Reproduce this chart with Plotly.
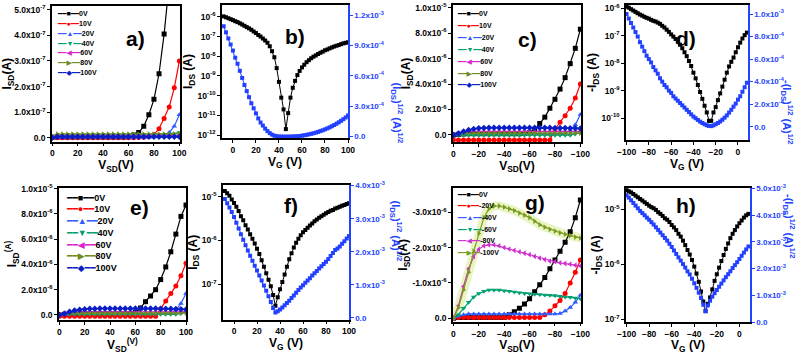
import numpy as np
import plotly.graph_objects as go

W, H = 808, 354
FONT = "Liberation Sans, DejaVu Sans"
BLUE_AX = "#2244FF"

# ---------------- output curves, V_SD in steps of 4 V ----------------
vsd_p = [0, 4, 8, 12, 16, 20, 24, 28, 32, 36, 40, 44, 48,
         52, 56, 60, 64, 68, 72, 76, 80, 84, 88, 92, 96, 100]
vsd_n = [0, -4, -8, -12, -16, -20, -24, -28, -32, -36, -40, -44, -48,
         -52, -56, -60, -64, -68, -72, -76, -80, -84, -88, -92, -96, -100]

# panel a, I_SD in units of 1e-7 A
a_0v = [0.02, 0.03, 0.03, 0.03, 0.03, 0.03, 0.03, 0.03, 0.03, 0.03, 0.03, 0.03, 0.03,
        0.03, 0.03, 0.04, 0.10, 0.20, 0.45, 0.90, 1.50, 2.50, 4.05, 6.00, 8.00, 10.0]
a_10v = [0.00, 0.00, 0.00, 0.00, 0.00, 0.00, 0.00, 0.00, 0.00, 0.00, 0.00, 0.00, 0.00,
         0.00, 0.00, 0.00, 0.00, 0.01, 0.02, 0.05, 0.12, 0.35, 0.75, 1.20, 1.95, 3.00]
a_20v = [0.01, 0.02, 0.02, 0.02, 0.02, 0.02, 0.02, 0.02, 0.02, 0.02, 0.02, 0.02, 0.02,
         0.02, 0.02, 0.02, 0.02, 0.02, 0.02, 0.02, 0.03, 0.04, 0.07, 0.20, 0.45, 0.90]
a_40v = [0.05, 0.10, 0.10, 0.10, 0.10, 0.10, 0.10, 0.10, 0.10, 0.10, 0.10, 0.10, 0.10,
         0.10, 0.10, 0.10, 0.10, 0.10, 0.10, 0.10, 0.10, 0.11, 0.12, 0.13, 0.15, 0.20]
a_60v = [0.03, 0.07, 0.07, 0.07, 0.07, 0.07, 0.07, 0.07, 0.07, 0.07, 0.07, 0.07, 0.07,
         0.07, 0.07, 0.07, 0.07, 0.07, 0.07, 0.07, 0.07, 0.07, 0.07, 0.07, 0.08, 0.09]
a_80v = [0.06, 0.14, 0.14, 0.14, 0.14, 0.14, 0.14, 0.14, 0.14, 0.14, 0.14, 0.14, 0.14,
         0.14, 0.14, 0.14, 0.14, 0.14, 0.14, 0.14, 0.14, 0.14, 0.14, 0.14, 0.14, 0.15]
a_100v = [0.00, 0.04, 0.04, 0.04, 0.04, 0.04, 0.04, 0.04, 0.04, 0.04, 0.04, 0.04, 0.04,
          0.04, 0.04, 0.04, 0.04, 0.04, 0.04, 0.04, 0.04, 0.04, 0.04, 0.04, 0.04, 0.04]

# panel c, I_SD in units of 1e-6 A (V_SD negative)
c_0v = [0.00, 0.05, 0.08, 0.10, 0.10, 0.10, 0.10, 0.10, 0.10, 0.10, 0.10, 0.10, 0.10,
        0.10, 0.12, 0.18, 0.40, 0.90, 1.40, 2.10, 2.80, 3.60, 4.50, 5.60, 6.80, 8.30]
c_10v = [-0.40, -0.40, -0.40, -0.40, -0.40, -0.40, -0.40, -0.40, -0.40, -0.40, -0.40, -0.40, -0.40,
         -0.40, -0.40, -0.40, -0.40, -0.40, -0.40, -0.40, 0.45, 1.00, 1.50, 2.10, 2.90, 4.00]
c_20v = [0.00, 0.05, 0.08, 0.10, 0.10, 0.10, 0.10, 0.10, 0.10, 0.10, 0.10, 0.10, 0.10,
         0.10, 0.10, 0.10, 0.10, 0.10, 0.10, 0.10, 0.10, 0.10, 0.12, 0.35, 0.80, 1.60]
c_40v = [0.00, -0.02, -0.02, -0.02, -0.02, -0.02, -0.02, -0.02, -0.02, -0.02, -0.02, -0.02, -0.02,
         -0.02, -0.02, -0.02, -0.02, -0.02, -0.02, -0.02, -0.02, -0.02, -0.02, -0.02, 0.08, 0.20]
c_60v = [0.00, 0.15, 0.25, 0.28, 0.28, 0.28, 0.28, 0.28, 0.28, 0.28, 0.28, 0.28, 0.28,
         0.28, 0.28, 0.28, 0.28, 0.28, 0.28, 0.28, 0.28, 0.28, 0.28, 0.28, 0.28, 0.28]
c_80v = [0.00, 0.10, 0.15, 0.15, 0.15, 0.15, 0.15, 0.15, 0.15, 0.15, 0.15, 0.15, 0.15,
         0.15, 0.15, 0.15, 0.15, 0.15, 0.15, 0.15, 0.15, 0.15, 0.15, 0.15, 0.15, 0.15]
c_100v = [0.00, 0.12, 0.28, 0.40, 0.47, 0.52, 0.55, 0.56, 0.57, 0.57, 0.57, 0.57, 0.57,
          0.57, 0.57, 0.57, 0.57, 0.57, 0.56, 0.56, 0.55, 0.55, 0.54, 0.53, 0.52, 0.50]

# panel e, I_SD in units of 1e-6 A
e_0v = [0.00, 0.05, 0.08, 0.10, 0.10, 0.10, 0.10, 0.10, 0.10, 0.10, 0.10, 0.10, 0.10,
        0.10, 0.12, 0.20, 0.55, 1.05, 1.50, 2.00, 2.80, 3.80, 5.00, 6.40, 7.80, 8.70]
e_10v = [-0.10, -0.10, -0.10, -0.10, -0.10, -0.10, -0.10, -0.10, -0.10, -0.10, -0.10, -0.10, -0.10,
         -0.10, -0.10, -0.10, -0.10, -0.10, -0.10, -0.10, 0.50, 1.10, 1.70, 2.30, 3.10, 4.10]
e_20v = [0.00, 0.05, 0.08, 0.10, 0.10, 0.10, 0.10, 0.10, 0.10, 0.10, 0.10, 0.10, 0.10,
         0.10, 0.10, 0.10, 0.10, 0.10, 0.10, 0.10, 0.10, 0.10, 0.12, 0.40, 0.90, 1.70]
e_40v = [0.00, 0.05, 0.05, 0.05, 0.05, 0.05, 0.05, 0.05, 0.05, 0.05, 0.05, 0.05, 0.05,
         0.05, 0.05, 0.05, 0.05, 0.05, 0.05, 0.05, 0.05, 0.05, 0.05, 0.05, 0.12, 0.22]
e_60v = [0.00, 0.15, 0.22, 0.25, 0.25, 0.25, 0.25, 0.25, 0.25, 0.25, 0.25, 0.25, 0.25,
         0.25, 0.25, 0.25, 0.25, 0.25, 0.25, 0.25, 0.25, 0.25, 0.25, 0.25, 0.25, 0.25]
e_80v = [0.00, 0.10, 0.15, 0.15, 0.15, 0.15, 0.15, 0.15, 0.15, 0.15, 0.15, 0.15, 0.15,
         0.15, 0.15, 0.15, 0.15, 0.15, 0.15, 0.15, 0.15, 0.15, 0.15, 0.15, 0.15, 0.15]
e_100v = [0.00, 0.10, 0.25, 0.35, 0.42, 0.46, 0.49, 0.50, 0.51, 0.52, 0.52, 0.52, 0.52,
          0.52, 0.52, 0.52, 0.52, 0.52, 0.51, 0.51, 0.50, 0.50, 0.49, 0.48, 0.46, 0.44]

# panel g, I_SD in units of 1e-6 A (negative)
g_0v = [0.00, -0.02, -0.02, -0.02, -0.02, -0.02, -0.02, -0.02, -0.02, -0.02, -0.02, -0.10, -0.18,
        -0.28, -0.40, -0.55, -0.75, -0.95, -1.15, -1.40, -1.65, -1.90, -2.15, -2.45, -2.85, -3.35]
g_20v = [0.00, -0.02, -0.02, -0.02, -0.02, -0.02, -0.02, -0.02, -0.02, -0.02, -0.02, -0.02, -0.02,
         -0.02, -0.02, -0.02, -0.02, -0.02, -0.10, -0.20, -0.35, -0.50, -0.70, -1.00, -1.30, -1.65]
g_40v = [0.00, -0.06, -0.10, -0.12, -0.12, -0.12, -0.12, -0.12, -0.12, -0.12, -0.12, -0.12, -0.12,
         -0.12, -0.12, -0.12, -0.12, -0.12, -0.12, -0.12, -0.12, -0.13, -0.20, -0.30, -0.45, -0.65]
g_60v = [0.00, -0.10, -0.28, -0.45, -0.60, -0.70, -0.76, -0.80, -0.80, -0.80, -0.78, -0.76, -0.74,
         -0.72, -0.70, -0.69, -0.68, -0.67, -0.66, -0.65, -0.64, -0.62, -0.60, -0.59, -0.57, -0.55]
g_80v = [0.00, -0.35, -0.90, -1.40, -1.75, -1.95, -2.05, -2.08, -2.08, -2.05, -2.00, -1.96, -1.92,
         -1.88, -1.84, -1.80, -1.75, -1.70, -1.66, -1.62, -1.60, -1.57, -1.55, -1.53, -1.50, -1.48]
g_100v = [0.00, -0.30, -0.80, -1.30, -1.90, -2.40, -2.85, -3.10, -3.18, -3.18, -3.15, -3.10, -3.05,
          -2.98, -2.92, -2.85, -2.75, -2.65, -2.58, -2.52, -2.47, -2.42, -2.38, -2.34, -2.30, -2.27]

# ---------------- transfer curves, V_G in steps of 2 V ----------------
vg_pos = list(range(-8, 101, 2))
vg_neg = list(range(-100, 9, 2))

b_ids = [1.05e-6, 9.5e-7, 8.5e-7, 7.6e-7, 6.8e-7, 6.0e-7, 5.4e-7, 4.7e-7, 4.1e-7, 3.5e-7, 3.0e-7,
         2.6e-7, 2.2e-7, 1.8e-7, 1.5e-7, 1.2e-7, 1.0e-7, 7.9e-8, 6.3e-8, 4.8e-8, 3.2e-8, 1.8e-8,
         8.9e-9, 2.5e-9, 5.0e-10, 7.9e-11, 2.0e-11, 2.0e-12, 1.3e-11, 7.9e-11, 2.5e-10, 5.6e-10, 1.1e-9,
         1.8e-9, 2.7e-9, 3.7e-9, 5.0e-9, 6.3e-9, 7.9e-9, 9.5e-9, 1.1e-8, 1.3e-8, 1.5e-8, 1.7e-8,
         2.0e-8, 2.2e-8, 2.5e-8, 2.8e-8, 3.1e-8, 3.4e-8, 3.7e-8, 4.1e-8, 4.5e-8, 4.8e-8, 5.1e-8]
b_sqrt = [1.09, 1.03, 0.97, 0.91, 0.85, 0.78, 0.72, 0.65, 0.58, 0.51, 0.45,
          0.39, 0.33, 0.28, 0.23, 0.18, 0.14, 0.11, 0.08, 0.055, 0.035, 0.02,
          0.01, 0.005, 0.002, 0.001, 0.0005, 0.0, 0.0005, 0.001, 0.002, 0.003, 0.005,
          0.007, 0.01, 0.014, 0.018, 0.023, 0.028, 0.034, 0.04, 0.047, 0.055, 0.063,
          0.072, 0.082, 0.092, 0.103, 0.115, 0.128, 0.142, 0.157, 0.173, 0.19, 0.21]  # x1e-3

d_ids = [1.15e-6, 1.05e-6, 9.3e-7, 8.3e-7, 7.4e-7, 6.6e-7, 5.9e-7, 5.4e-7, 4.9e-7, 4.5e-7, 4.2e-7,
         3.8e-7, 3.5e-7, 3.3e-7, 3.0e-7, 2.7e-7, 2.3e-7, 2.0e-7, 1.66e-7, 1.38e-7, 1.12e-7, 9.3e-8,
         7.6e-8, 6.0e-8, 4.7e-8, 3.5e-8, 2.5e-8, 1.8e-8, 1.2e-8, 7.9e-9, 4.5e-9, 2.8e-9, 1.6e-9,
         8.9e-10, 5.0e-10, 2.8e-10, 1.6e-10, 7.9e-11, 7.9e-11, 1.6e-10, 2.5e-10, 4.5e-10, 7.9e-10, 1.4e-9,
         2.5e-9, 4.5e-9, 7.6e-9, 1.12e-8, 1.6e-8, 2.5e-8, 3.8e-8, 5.6e-8, 7.9e-8, 1.05e-7, 1.3e-7]
d_sqrt = [1.0, 0.96, 0.92, 0.88, 0.84, 0.8, 0.75, 0.71, 0.67, 0.63, 0.6,
          0.57, 0.53, 0.5, 0.47, 0.43, 0.4, 0.37, 0.35, 0.32, 0.3, 0.27,
          0.25, 0.23, 0.21, 0.19, 0.17, 0.15, 0.13, 0.11, 0.09, 0.075, 0.06,
          0.045, 0.033, 0.022, 0.013, 0.007, 0.005, 0.012, 0.022, 0.033, 0.046, 0.062,
          0.08, 0.1, 0.125, 0.15, 0.178, 0.205, 0.24, 0.27, 0.31, 0.35, 0.39]  # x1e-3

f_ids = [1.35e-5, 1.2e-5, 1.05e-5, 8.7e-6, 7.2e-6, 5.9e-6, 4.7e-6, 3.6e-6, 2.9e-6, 2.24e-6, 1.78e-6,
         1.38e-6, 1.1e-6, 8.5e-7, 6.5e-7, 4.9e-7, 3.5e-7, 2.5e-7, 1.78e-7, 1.26e-7, 8.9e-8, 5.6e-8,
         3.2e-8, 5.0e-8, 7.6e-8, 1.12e-7, 1.66e-7, 2.5e-7, 3.7e-7, 5.1e-7, 6.9e-7, 8.9e-7, 1.1e-6,
         1.32e-6, 1.55e-6, 1.74e-6, 1.95e-6, 2.19e-6, 2.45e-6, 2.75e-6, 3.0e-6, 3.3e-6, 3.6e-6, 3.9e-6,
         4.2e-6, 4.5e-6, 4.8e-6, 5.0e-6, 5.4e-6, 5.6e-6, 5.9e-6, 6.2e-6, 6.5e-6, 6.8e-6, 7.1e-6]
f_sqrt = [3.6, 3.47, 3.34, 3.2, 3.05, 2.88, 2.7, 2.53, 2.36, 2.2, 2.04,
          1.88, 1.73, 1.58, 1.43, 1.28, 1.13, 0.98, 0.82, 0.65, 0.48, 0.3,
          0.16, 0.2, 0.25, 0.31, 0.38, 0.45, 0.52, 0.6, 0.68, 0.76, 0.84,
          0.92, 0.99, 1.06, 1.13, 1.2, 1.28, 1.35, 1.42, 1.49, 1.56, 1.63,
          1.7, 1.78, 1.87, 1.96, 2.05, 2.1, 2.16, 2.24, 2.32, 2.4, 2.48]  # x1e-3

h_ids = [2.24e-5, 2.14e-5, 2.04e-5, 1.91e-5, 1.78e-5, 1.66e-5, 1.55e-5, 1.45e-5, 1.35e-5, 1.26e-5, 1.17e-5,
         1.1e-5, 1.05e-5, 9.8e-6, 8.9e-6, 8.3e-6, 7.6e-6, 6.9e-6, 6.5e-6, 5.9e-6, 5.2e-6, 4.7e-6,
         4.2e-6, 3.6e-6, 3.2e-6, 2.7e-6, 2.24e-6, 1.82e-6, 1.51e-6, 1.2e-6, 9.1e-7, 6.8e-7, 4.8e-7,
         3.2e-7, 2.1e-7, 1.41e-7, 1.91e-7, 2.5e-7, 3.5e-7, 5.0e-7, 6.6e-7, 8.7e-7, 1.15e-6, 1.48e-6,
         1.91e-6, 2.4e-6, 3.0e-6, 3.6e-6, 4.2e-6, 4.9e-6, 5.6e-6, 6.3e-6, 7.1e-6, 7.8e-6, 8.3e-6]
h_sqrt = [4.75, 4.66, 4.56, 4.46, 4.36, 4.26, 4.16, 4.08, 4.0, 3.91, 3.83,
          3.74, 3.65, 3.55, 3.45, 3.35, 3.25, 3.15, 3.05, 2.93, 2.81, 2.68,
          2.55, 2.42, 2.3, 2.17, 2.04, 1.9, 1.78, 1.62, 1.45, 1.28, 1.1,
          0.9, 0.65, 0.4, 0.62, 0.8, 0.95, 1.08, 1.2, 1.32, 1.44, 1.56,
          1.68, 1.79, 1.9, 2.02, 2.13, 2.24, 2.36, 2.48, 2.6, 2.72, 2.83]  # x1e-3

pos_labels = ["0V", "10V", "20V", "40V", "60V", "80V", "100V"]
neg_labels = ["0V", "-20V", "-40V", "-60V", "-80V", "-100V"]

for arr in [a_0v, a_10v, a_20v, a_40v, a_60v, a_80v, a_100v, c_0v, c_10v, c_20v, c_40v, c_60v,
            c_80v, c_100v, e_0v, e_10v, e_20v, e_40v, e_60v, e_80v, e_100v,
            g_0v, g_20v, g_40v, g_60v, g_80v, g_100v]:
    assert len(arr) == 26, len(arr)
for arr in [b_ids, b_sqrt, d_ids, d_sqrt, f_ids, f_sqrt, h_ids, h_sqrt]:
    assert len(arr) == 55, len(arr)

# ---------------- styling ----------------
STYLE7 = [("#000000", "square"), ("#FF0000", "circle"), ("#2E5BFF", "triangle-up"),
          ("#00A070", "triangle-down"), ("#E020D0", "triangle-left"), ("#6E8B1E", "triangle-right"),
          ("#0A1EC8", "diamond")]
STYLE6 = [("#000000", "square"), ("#FF0000", "circle"), ("#2E5BFF", "triangle-up"),
          ("#00A070", "triangle-down"), ("#D030D0", "triangle-left"), ("#7A9A20", "triangle-right")]
GLYPH = {"square": "■", "circle": "●", "triangle-up": "▲", "triangle-down": "▼",
         "triangle-left": "◀", "triangle-right": "▶", "diamond": "◆"}
TBLUE = "#2240FF"

TICKFONT = dict(family=FONT, size=8.5, color="black", weight="bold")
TITLEFONT = dict(family=FONT, size=12, color="black", weight="bold")


def sfx(n):
    return "" if n == 1 else str(n)


def dom(px):
    L, T, R, B = px
    return [L / W, R / W], [1 - B / H, 1 - T / H]


def axis(**kw):
    d = dict(showline=True, linecolor="black", linewidth=1.5, mirror=True, automargin=False,
             ticks="outside", ticklen=3, tickwidth=1.2, tickcolor="black",
             showgrid=False, zeroline=False, tickfont=TICKFONT)
    d.update(kw)
    return d


def sci(vals, exps):
    return ["0.0" if v == 0 else f"{v:.1f}x10<sup>{e}</sup>" for v, e in zip(vals, exps)]


fig = go.Figure()
layout = {"annotations": []}


def add_frame(n, px, xr, xticks, xtitle, yax):
    xd, yd = dom(px)
    layout["xaxis" + sfx(n)] = axis(domain=xd, anchor="y" + sfx(n), range=xr,
                                    tickmode="array", tickvals=xticks,
                                    title=dict(text=xtitle, font=TITLEFONT, standoff=1))
    yax.update(domain=yd, anchor="x" + sfx(n))
    layout["yaxis" + sfx(n)] = yax


def add_series(n, x, y, color, symbol, size=5, yaxis=None, width=1.2):
    fig.add_trace(go.Scatter(x=x, y=y, mode="lines+markers", showlegend=False,
                             line=dict(color=color, width=width),
                             marker=dict(symbol=symbol, size=size, color=color, line=dict(width=0)),
                             xaxis="x" + sfx(n), yaxis=yaxis or ("y" + sfx(n))))


def add_legend(x0, y0, step, labels, styles, size):
    for i, (lab, (c, s)) in enumerate(zip(labels, styles)):
        layout["annotations"].append(dict(
            xref="paper", yref="paper", x=x0 / W, y=1 - (y0 + i * step) / H,
            xanchor="left", yanchor="middle", showarrow=False,
            text=f"<span style='color:{c}'>━━{GLYPH[s]}━━</span>{lab}",
            font=dict(family=FONT, size=size, color="black", weight="bold")))


def panel_label(txt, cx, cy):
    layout["annotations"].append(dict(
        xref="paper", yref="paper", x=cx / W, y=1 - cy / H, showarrow=False,
        text=txt, font=dict(family=FONT, size=21, color="black", weight="bold")))


# ---------- a ----------
xt = [0, 20, 40, 60, 80, 100]
xtn = [0, -20, -40, -60, -80, -100]
add_frame(1, (52, 6, 180, 141.5), [-0.2, 100.5], xt, "V<sub>SD</sub>(V)",
          axis(range=[-0.15e-7, 5.15e-7], tickmode="array",
               tickvals=[0, 1e-7, 2e-7, 3e-7, 4e-7, 5e-7],
               ticktext=sci([0, 1, 2, 3, 4, 5], ["-7"] * 6),
               title=dict(text="I<sub>SD</sub>(A)", font=TITLEFONT, standoff=2)))
for arr, (c, s) in zip([a_0v, a_10v, a_20v, a_40v, a_60v, a_80v, a_100v], STYLE7):
    add_series(1, vsd_p, np.array(arr) * 1e-7, c, s)
add_legend(55, 14, 9.7, pos_labels, STYLE7, 7)
panel_label("a)", 124, 25)

# ---------- c ----------
add_frame(3, (453, 5, 581, 142), [0.3, -100.5], xtn, "V<sub>SD</sub>(V)",
          axis(range=[-0.55e-6, 10.2e-6], tickmode="array",
               tickvals=[0, 2e-6, 4e-6, 6e-6, 8e-6, 1e-5],
               ticktext=sci([0, 2, 4, 6, 8, 1], ["-6"] * 5 + ["-5"]),
               title=dict(text="I<sub>SD</sub>(A)", font=TITLEFONT, standoff=2)))
for arr, (c, s) in zip([c_0v, c_10v, c_20v, c_40v, c_60v, c_80v, c_100v], STYLE7):
    add_series(3, vsd_n, np.array(arr) * 1e-6, c, s)
add_legend(455, 14, 11.8, pos_labels, STYLE7, 7)
panel_label("c)", 527, 26)

# ---------- e ----------
add_frame(5, (59, 188, 186, 320), [-0.3, 100], xt, "V<sub>SD</sub><sup>(V)</sup>",
          axis(range=[-0.4e-6, 10.05e-6], tickmode="array",
               tickvals=[0, 2e-6, 4e-6, 6e-6, 8e-6, 1e-5],
               ticktext=sci([0, 2, 4, 6, 8, 1], ["-6"] * 5 + ["-5"]),
               title=dict(text="I<sub>SD</sub><sup>(A)</sup>", font=TITLEFONT, standoff=2)))
for arr, (c, s) in zip([e_0v, e_10v, e_20v, e_40v, e_60v, e_80v, e_100v], STYLE7):
    add_series(5, vsd_p, np.array(arr) * 1e-6, c, s)
add_legend(64, 197.7, 11.7, pos_labels, STYLE7, 9)
panel_label("e)", 128, 207)

# ---------- g ----------
add_frame(7, (453, 188, 581, 321.7), [0.3, -100.5], xtn, "V<sub>SD</sub>(V)",
          axis(range=[0.1e-6, -3.69e-6], tickmode="array",
               tickvals=[0, -1e-6, -2e-6, -3e-6],
               ticktext=["0.0"] + [f"-{v}.0x10<sup>-6</sup>" for v in (1, 2, 3)],
               title=dict(text="I<sub>SD</sub>(A)", font=TITLEFONT, standoff=2)))
fig.add_trace(go.Scatter(x=vsd_n, y=np.array(g_100v) * 1e-6, mode="lines", showlegend=False,
                         line=dict(color="rgba(205,230,120,0.45)", width=9),
                         xaxis="x7", yaxis="y7"))
for arr, (c, s) in zip([g_0v, g_20v, g_40v, g_60v, g_80v, g_100v], STYLE6):
    add_series(7, vsd_n, np.array(arr) * 1e-6, c, s)
add_legend(455, 194.3, 11.6, neg_labels, STYLE6, 7)
panel_label("g)", 535, 202)


# ---------- transfer panels ----------
def transfer(n, n2, px, xr, xticks, ylog, lticks, ltitle, rr, rvals, rtext, rtitle, rpos,
             vg, ids, sq, lab, lpos):
    add_frame(n, px, xr, xticks, "V<sub>G</sub> (V)",
              axis(type="log", range=ylog, mirror=False, tickmode="array",
                   tickvals=[10.0 ** e for e in lticks],
                   ticktext=[f"10<sup>{e}</sup>" for e in lticks],
                   title=dict(text=ltitle, font=TITLEFONT, standoff=2)))
    xd, yd = dom(px)
    layout["yaxis" + str(n2)] = axis(
        domain=yd, anchor="x" + sfx(n), overlaying="y" + sfx(n), side="right",
        range=rr, mirror=False, linecolor=BLUE_AX, tickcolor=BLUE_AX,
        tickmode="array", tickvals=rvals, ticktext=rtext,
        tickfont=dict(family=FONT, size=8, color=BLUE_AX, weight="bold"))
    # right-hand title reads top to bottom, as in the original
    layout["annotations"].append(dict(
        xref="paper", yref="paper", x=rpos[0] / W, y=1 - rpos[1] / H, showarrow=False,
        textangle=90, text=rtitle,
        font=dict(family=FONT, size=11, color=BLUE_AX, weight="bold")))
    add_series(n, vg, ids, "black", "square", size=4, width=1)
    add_series(n, vg, np.array(sq) * 1e-3, TBLUE, "square", size=4, width=1, yaxis="y" + str(n2))
    panel_label(lab, *lpos)


transfer(2, 9, (222, 5, 348, 138), [-9.5, 100], xt, [-12.15, -5.4],
         [-12, -11, -10, -9, -8, -7, -6], "I<sub>DS</sub> (A)",
         [-0.013e-3, 1.3e-3], [0, 3e-4, 6e-4, 9e-4, 1.2e-3],
         sci([0, 3, 6, 9, 1.2], ["-4", "-4", "-4", "-4", "-3"]),
         "(I<sub>DS</sub>)<sup>1/2</sup> (A)<sup>1/2</sup>", (397, 80),
         vg_pos, b_ids, b_sqrt, "b)", (295, 23))

transfer(4, 10, (626, 5, 748, 140), [-100.5, 9], [-100, -80, -60, -40, -20, 0],
         [-10.8, -5.88], [-10, -9, -8, -7, -6], "-I<sub>DS</sub> (A)",
         [-0.118e-3, 1.08e-3], [0, 2e-4, 4e-4, 6e-4, 8e-4, 1e-3],
         sci([0, 2, 4, 6, 8, 1], ["-4"] * 5 + ["-3"]),
         "-(I<sub>DS</sub>)<sup>1/2</sup> (A)<sup>1/2</sup>", (797, 78),
         vg_neg, d_ids, d_sqrt, "d)", (698, 25))

transfer(6, 11, (223, 185, 349, 319.5), [-9.6, 100], xt, [-7.81, -4.73],
         [-7, -6, -5], "I<sub>DS</sub> (A)",
         [-0.05e-3, 4.02e-3], [0, 1e-3, 2e-3, 3e-3, 4e-3],
         sci([0, 1, 2, 3, 4], ["-3"] * 5),
         "(I<sub>DS</sub>)<sup>1/2</sup> (A)<sup>1/2</sup>", (396, 263),
         vg_pos, f_ids, f_sqrt, "f)", (291, 205))

transfer(8, 12, (626, 188, 750, 322), [-100.5, 9.4], [-100, -80, -60, -40, -20, 0],
         [-7.05, -4.61], [-7, -6, -5], "-I<sub>DS</sub> (A)",
         [0, 5.02e-3], [0, 1e-3, 2e-3, 3e-3, 4e-3, 5e-3],
         sci([0, 1, 2, 3, 4, 5], ["-3"] * 6),
         "-(I<sub>DS</sub>)<sup>1/2</sup> (A)<sup>1/2</sup>", (799, 260),
         vg_neg, h_ids, h_sqrt, "h)", (698, 205))

fig.update_layout(**layout)
fig.update_layout(width=W, height=H, margin=dict(l=0, r=0, t=0, b=0),
                  paper_bgcolor="white", plot_bgcolor="white", showlegend=False,
                  font=dict(family=FONT, color="black"))
# drop the browser's default 8px body margin so the figure sits at the page corner
fig.write_html("out.html", config={"displayModeBar": False},
               post_script="document.body.style.margin='0';document.body.style.padding='0';")
